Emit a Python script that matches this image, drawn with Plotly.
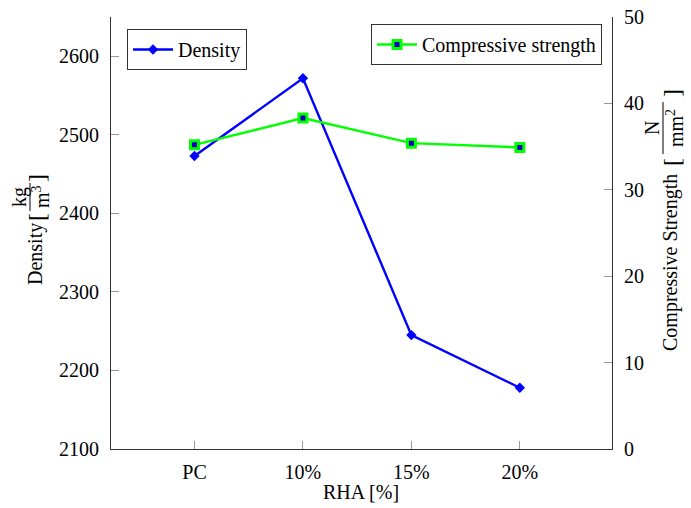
import plotly.graph_objects as go

# Data
categories = ["PC", "10%", "15%", "20%"]
density = [2473, 2572, 2245, 2178]
compressive = [35.2, 38.3, 35.4, 34.9]
density_ticks = [2100, 2200, 2300, 2400, 2500, 2600]
strength_ticks = [0, 10, 20, 30, 40, 50]

FONT = "Liberation Serif"
W, H = 691, 508
L, R, T, B = 111, 79, 17, 59
PW, PH = W - L - R, H - T - B


def px(x):
    return (x - L) / PW


def py(y):
    return (H - B - y) / PH


xpos = list(range(len(categories)))

fig = go.Figure()
fig.add_trace(go.Scatter(
    x=xpos, y=density, name="Density", mode="lines+markers",
    line=dict(color="#0000ff", width=2.4),
    marker=dict(symbol="diamond", size=8, color="#0000ff"),
    legend="legend",
))
fig.add_trace(go.Scatter(
    x=xpos, y=compressive, name="Compressive strength", mode="lines+markers",
    yaxis="y2",
    line=dict(color="#00ff00", width=2.4),
    marker=dict(symbol="square", size=8, color="#0000c0",
                line=dict(color="#00ff00", width=3)),
    legend="legend2",
))

axis_common = dict(
    showline=True, linecolor="#333333", linewidth=1,
    ticks="inside", ticklen=8, tickcolor="#999999", tickwidth=1,
    showgrid=False, zeroline=False, automargin=False,
    tickfont=dict(family=FONT, size=20, color="black"),
)

legend_common = dict(
    yanchor="top", bgcolor="white", bordercolor="#333333", borderwidth=1,
    font=dict(family=FONT, size=20), itemwidth=40, tracegroupgap=0,
)

fig.update_layout(
    width=W, height=H,
    margin=dict(l=L, r=R, t=T, b=B, autoexpand=False),
    paper_bgcolor="white", plot_bgcolor="white",
    font=dict(family=FONT, size=20, color="black"),
    xaxis=dict(
        range=[-0.77, 3.85], tickvals=xpos, ticktext=categories,
        ticklabelstandoff=5,
        **axis_common,
    ),
    yaxis=dict(
        range=[2100, 2650], tickvals=density_ticks, ticklabelstandoff=7,
        **axis_common,
    ),
    yaxis2=dict(
        range=[0, 50], tickvals=strength_ticks, overlaying="y", side="right",
        ticklabelstandoff=7,
        **axis_common,
    ),
    showlegend=True,
    legend=dict(x=px(127), y=py(29), xanchor="left", **legend_common),
    legend2=dict(x=px(602), y=py(24), xanchor="right", **legend_common),
)


def flat_text(text, x, y, size=20):
    fig.add_annotation(
        text=text, x=px(x), y=py(y), xref="paper", yref="paper",
        showarrow=False, xanchor="center", yanchor="middle",
        font=dict(family=FONT, size=size, color="black"),
    )


# Rotated axis titles with stacked unit fractions
def rot_text(text, x, y, size=20):
    fig.add_annotation(
        text=text, x=px(x), y=py(y), xref="paper", yref="paper",
        textangle=-90, showarrow=False, xanchor="center", yanchor="middle",
        font=dict(family=FONT, size=size, color="black"),
    )


def frac_bar(x, y0, y1):
    fig.add_shape(
        type="line", xref="paper", yref="paper",
        x0=px(x), x1=px(x), y0=py(y0), y1=py(y1),
        line=dict(color="black", width=1),
    )


# Bottom: RHA [%]
flat_text("RHA [%]", 361, 492)

# Left: Density [kg/m^3]
rot_text("Density", 35, 254)
rot_text("[", 37, 217, 24)
rot_text("kg", 20, 197, 20)
frac_bar(30, 183, 211)
rot_text("m<sup>3</sup>", 41, 197, 20)
rot_text("]", 37, 178, 24)

# Right: Compressive Strength [N/mm^2]
rot_text("Compressive Strength", 670, 263)
rot_text("[", 672, 162, 24)
rot_text("N", 652, 128, 20)
frac_bar(663, 102, 154)
rot_text("mm<sup>2</sup>", 675, 128, 20)
rot_text("]", 672, 93, 24)

fig.write_html("out.html")
